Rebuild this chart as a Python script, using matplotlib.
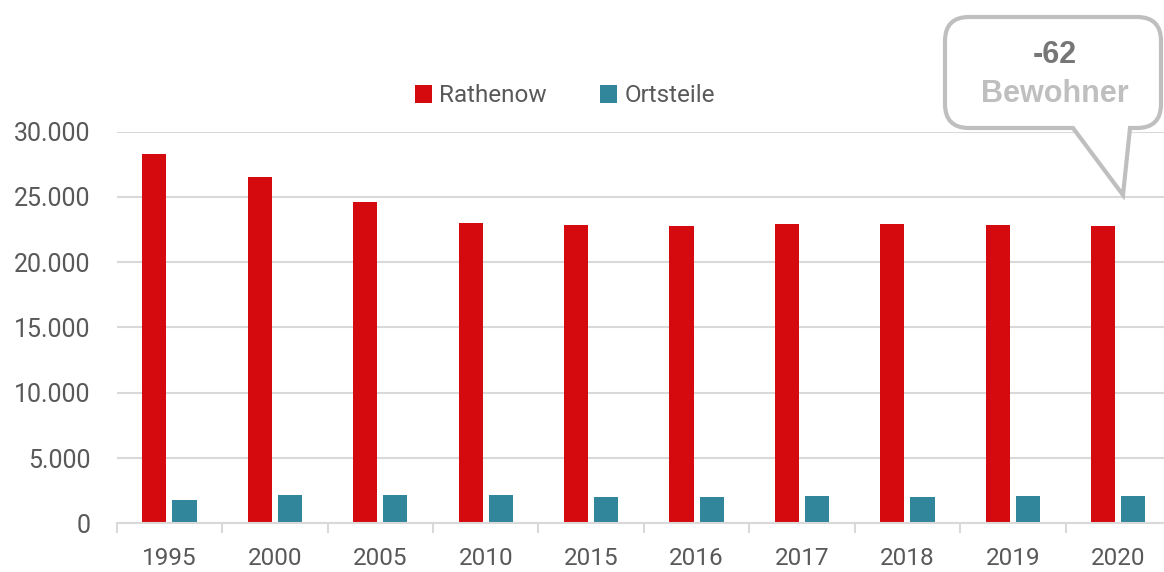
import numpy as np
import matplotlib
matplotlib.use("Agg")
import matplotlib.pyplot as plt
from matplotlib.path import Path
from matplotlib.patches import PathPatch
from matplotlib.ticker import FuncFormatter, FixedLocator

# data
years = ["1995", "2000", "2005", "2010", "2015", "2016", "2017", "2018", "2019", "2020"]
rathenow = [28280, 26510, 24640, 22990, 22860, 22780, 22910, 22960, 22880, 22810]
ortsteile = [1810, 2150, 2200, 2150, 2030, 2030, 2080, 2050, 2120, 2120]
series_names = ["Rathenow", "Ortsteile"]
callout_value = "-62"
callout_unit = "Bewohner"

RED = "#D40A0E"
TEAL = "#31869B"
TEXT = "#595959"
GRID = "#D9D9D9"

W, H = 1164, 572
plt.rcParams["font.family"] = ["Roboto", "DejaVu Sans"]

fig = plt.figure(figsize=(W / 100, H / 100), dpi=100)
# axes box in pixels (right edge runs a bit past the picture, as in the reference)
ax = fig.add_axes([116.7 / W, (H - 523.3) / H, 1054.3 / W, 391.6 / H])

x = np.arange(len(years))
bw = 0.228
off = 0.143
ax.bar(x - off, rathenow, width=bw, color=RED, label=series_names[0], zorder=3)
ax.bar(x + off, ortsteile, width=bw, color=TEAL, label=series_names[1], zorder=3)

ax.set_xlim(-0.5, len(years) - 0.5)
ax.set_ylim(0, 30000)
ax.set_yticks(np.arange(0, 30001, 5000))
ax.yaxis.set_major_formatter(FuncFormatter(lambda v, p: f"{int(v):,}".replace(",", ".")))
ax.grid(axis="y", color=GRID, linewidth=1.5, zorder=0)
ax.set_axisbelow(True)

ax.set_xticks(x)
ax.set_xticklabels(years)
ax.xaxis.set_minor_locator(FixedLocator(np.arange(-0.5, len(years), 1.0)))
ax.tick_params(axis="x", which="major", length=0, pad=17, labelsize=17.5, labelcolor=TEXT)
ax.tick_params(axis="x", which="minor", length=7, width=1.5, color=GRID, direction="out")
ax.tick_params(axis="y", length=0, pad=19, labelsize=18, labelcolor=TEXT)

for s in ["top", "right", "left"]:
    ax.spines[s].set_visible(False)
ax.spines["bottom"].set_color(GRID)
ax.spines["bottom"].set_linewidth(1.5)
ax.spines["bottom"].set_zorder(4)

leg = fig.legend(loc="center", bbox_to_anchor=(565 / W, 1 - 96 / H), ncol=2, frameon=False,
                 fontsize=17.5, handlelength=0.7, handleheight=0.7, handletextpad=0.3,
                 columnspacing=2.2, labelcolor=TEXT)

# speech bubble callout, drawn in pixel coords (y measured from top)
L, R, T, B, r = 945, 1161, 17, 128, 24
verts = [(L + r, T), (R - r, T), (R, T), (R, T + r), (R, B - r), (R, B), (R - r, B),
         (1130, B), (1123, 195), (1073, B), (L + r, B), (L, B), (L, B - r),
         (L, T + r), (L, T), (L + r, T), (L + r, T)]
codes = [Path.MOVETO, Path.LINETO, Path.CURVE3, Path.CURVE3, Path.LINETO, Path.CURVE3, Path.CURVE3,
         Path.LINETO, Path.LINETO, Path.LINETO, Path.LINETO, Path.CURVE3, Path.CURVE3,
         Path.LINETO, Path.CURVE3, Path.CURVE3, Path.CLOSEPOLY]
verts = [(vx / W, 1 - vy / H) for vx, vy in verts]
bubble = PathPatch(Path(verts, codes), facecolor="white", edgecolor="#BFBFBF", linewidth=3,
                   joinstyle="miter", transform=fig.transFigure, zorder=10)
fig.add_artist(bubble)
fig.text(1055 / W, 1 - 55 / H, callout_value, ha="center", va="center", fontsize=22,
         fontweight="bold", color="#767676", family=["Liberation Sans", "DejaVu Sans"], zorder=11)
fig.text(1055 / W, 1 - 94 / H, callout_unit, ha="center", va="center", fontsize=22,
         fontweight="bold", color="#BFBFBF", family=["Liberation Sans", "DejaVu Sans"], zorder=11)

fig.savefig("out.png", dpi=100)
